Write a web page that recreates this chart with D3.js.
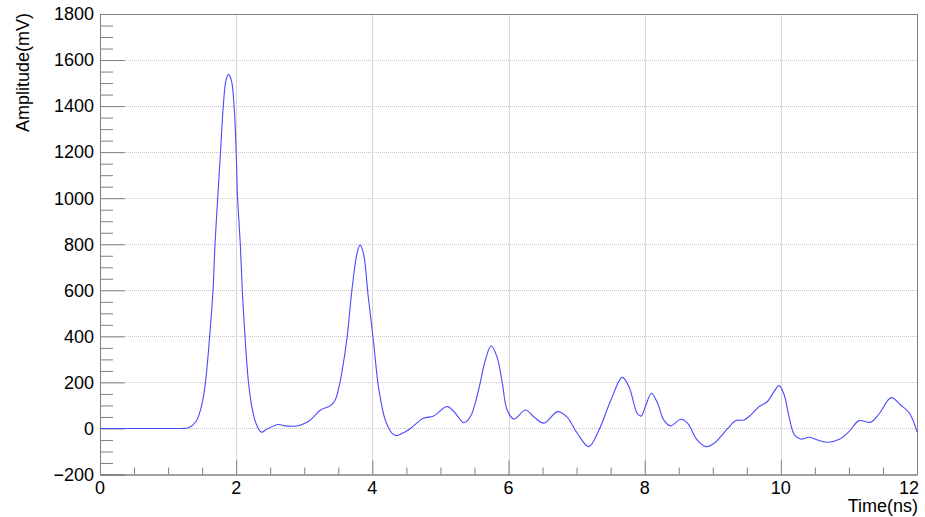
<!DOCTYPE html>
<html>
<head>
<meta charset="utf-8">
<script src="https://cdn.jsdelivr.net/npm/d3@7"></script>
<style>
  body { margin: 0; background: #fff; }
  svg { display: block; }
  text { font-family: "Liberation Sans", Arial, Helvetica, sans-serif; fill: #000; }
</style>
</head>
<body>
<svg id="chart" width="925" height="517"></svg>
<script>
// Waveform samples (time in ns, amplitude in mV)
const times = [0, 0.5, 1.0, 1.2, 1.30, 1.41, 1.50, 1.55, 1.61, 1.66, 1.69, 1.73, 1.77, 1.81, 1.85, 1.887, 1.93, 1.97, 2.00, 2.02, 2.06, 2.09, 2.13, 2.18, 2.23, 2.29, 2.37, 2.45, 2.62, 2.72, 2.89, 3.06, 3.24, 3.38, 3.45, 3.50, 3.55, 3.63, 3.70, 3.775, 3.82, 3.87, 3.94, 4.02, 4.09, 4.19, 4.29, 4.36, 4.45, 4.56, 4.75, 4.90, 5.10, 5.22, 5.34, 5.44, 5.56, 5.66, 5.745, 5.83, 5.91, 5.98, 6.08, 6.25, 6.37, 6.52, 6.72, 6.86, 7.01, 7.18, 7.33, 7.50, 7.67, 7.77, 7.89, 7.95, 8.01, 8.10, 8.19, 8.28, 8.38, 8.53, 8.63, 8.77, 8.90, 9.02, 9.22, 9.34, 9.46, 9.56, 9.68, 9.80, 9.90, 9.975, 10.05, 10.12, 10.20, 10.29, 10.42, 10.54, 10.69, 10.86, 11.00, 11.15, 11.32, 11.45, 11.62, 11.76, 11.89, 12.0];
const amplitudes = [0, 0, 0, 0, 3, 30, 109, 203, 398, 601, 803, 1006, 1201, 1396, 1512, 1538, 1512, 1396, 1201, 1006, 803, 601, 398, 203, 95, 23, -16, -3, 17, 11, 11, 30, 80, 98, 120, 167, 239, 398, 601, 760, 796, 760, 572, 370, 181, 37, -21, -31, -20, 0, 44, 54, 95, 66, 25, 51, 167, 297, 359, 312, 196, 80, 41, 80, 51, 23, 73, 49, -21, -79, -6, 120, 222, 181, 66, 54, 95, 153, 109, 37, 11, 40, 23, -50, -79, -64, 0, 34, 37, 59, 95, 116, 160, 186, 145, 51, -28, -46, -38, -50, -60, -47, -14, 34, 27, 66, 134, 102, 66, -14];

const xTickValues = [0, 2, 4, 6, 8, 10, 12];
const yTickValues = [-200, 0, 200, 400, 600, 800, 1000, 1200, 1400, 1600, 1800];
const xTitle = "Time(ns)";
const yTitle = "Amplitude(mV)";

const svg = d3.select("#chart");
const L = 100, R = 917, T = 14, B = 474.5;

const x = d3.scaleLinear().domain([0, 12]).range([L, R]);
const y = d3.scaleLinear().domain([-200, 1800]).range([B, T]);

const axisColor = "#808080";
const gridColor = "#c4c4c4";

// grid
const grid = svg.append("g");
grid.selectAll(".hg").data(yTickValues.filter(v => v > -200 && v < 1800)).enter()
  .append("line")
  .attr("x1", L).attr("x2", R)
  .attr("y1", d => Math.round(y(d)) + 0.5).attr("y2", d => Math.round(y(d)) + 0.5)
  .attr("stroke", gridColor).attr("stroke-width", 1).attr("stroke-dasharray", "1,1");
grid.selectAll(".vg").data(xTickValues.filter(v => v > 0 && v < 12)).enter()
  .append("line")
  .attr("x1", d => Math.round(x(d)) + 0.5).attr("x2", d => Math.round(x(d)) + 0.5)
  .attr("y1", T).attr("y2", B)
  .attr("stroke", "#d6d6d6").attr("stroke-width", 1);

// frame top/right
svg.append("line").attr("x1", L).attr("x2", R + 0.5).attr("y1", T + 0.5).attr("y2", T + 0.5)
  .attr("stroke", axisColor).attr("stroke-width", 1);
svg.append("line").attr("x1", R + 0.5).attr("x2", R + 0.5).attr("y1", T).attr("y2", B)
  .attr("stroke", axisColor).attr("stroke-width", 1);

// X axis
const xAxisG = svg.append("g").attr("transform", `translate(0,${B})`);
const xMajor = d3.axisTop(x).tickValues(xTickValues).tickSize(14).tickFormat("");
const xMinor = d3.axisTop(x).tickValues(d3.range(0, 12.01, 0.5).filter(v => v % 2 !== 0)).tickSize(7).tickFormat("");
xAxisG.append("g").call(xMinor);
xAxisG.append("g").call(xMajor);
xAxisG.selectAll("path.domain").attr("stroke", axisColor);
xAxisG.selectAll(".tick line").attr("stroke", axisColor);

const xl = svg.append("g");
xl.selectAll("text").data(xTickValues).enter().append("text")
  .attr("x", d => x(d)).attr("y", 494)
  .attr("text-anchor", "middle").attr("font-size", 18)
  .text(d => d3.format("d")(d))
  .each(function () {
    const bb = this.getBBox();
    if (bb.x + bb.width > 919) d3.select(this).attr("x", +d3.select(this).attr("x") - (bb.x + bb.width - 919));
  });

// Y axis
const yAxisG = svg.append("g").attr("transform", `translate(${L},0)`);
const yMinor = d3.axisRight(y).tickValues(d3.range(-200, 1801, 50).filter(v => v % 200 !== 0)).tickSize(13).tickFormat("");
const yMajor = d3.axisRight(y).tickValues(yTickValues).tickSize(25).tickFormat("");
yAxisG.append("g").call(yMinor);
yAxisG.append("g").call(yMajor);
yAxisG.selectAll("path.domain").attr("stroke", axisColor);
yAxisG.selectAll(".tick line").attr("stroke", axisColor);

const yl = svg.append("g");
yl.selectAll("text").data(yTickValues).enter().append("text")
  .attr("x", 94).attr("y", d => y(d))
  .attr("dy", "0.35em")
  .attr("text-anchor", "end").attr("font-size", 18)
  .text(d => d < 0 ? "\u2212" + Math.abs(d) : String(d));

// titles
svg.append("text").attr("x", 918).attr("y", 512).attr("text-anchor", "end")
  .attr("font-size", 18).text(xTitle);
svg.append("text").attr("transform", "translate(29,13) rotate(-90)")
  .attr("text-anchor", "end").attr("font-size", 18).text(yTitle);

// waveform
const data = times.map((t, i) => [t, amplitudes[i]]);
const line = d3.line().x(d => x(d[0])).y(d => y(d[1])).curve(d3.curveCatmullRom.alpha(0.5));
svg.append("path").datum(data).attr("d", line)
  .attr("fill", "none").attr("stroke", "#4a4aff").attr("stroke-width", 1.1);
</script>
</body>
</html>
